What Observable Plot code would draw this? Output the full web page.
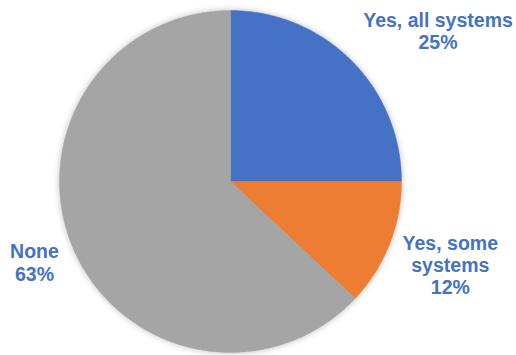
<!DOCTYPE html>
<html>
<head>
<meta charset="utf-8">
<script src="https://cdn.jsdelivr.net/npm/d3@7"></script>
<script src="https://cdn.jsdelivr.net/npm/@observablehq/plot@0.6"></script>
<style>
  html, body { margin: 0; padding: 0; background: #fff; }
  #chart svg { display: block; }
</style>
</head>
<body>
<div id="chart"></div>
<script>
// Data
const categories = ["Yes, all systems", "Yes, some systems", "None"];
const values = [25, 12, 63];
const labelTexts = ["Yes, all systems\n25%", "Yes, some\nsystems\n12%", "None\n63%"];
const colors = ["#4472C4", "#ED7D31", "#A5A5A5"];

// Layout (label distance from centre in radius units, angle nudge in degrees)
const labelRadius = [1.50, 1.375, 1.24];
const labelAngleNudge = [9, -0.8, 1];

const W = 516, H = 355;
const pie = d3.pie().sort(null).value(d => d.value)(categories.map((c, i) => ({key: c, value: values[i]})));

// Build polygon outlines for each slice (in unit circle coordinates)
const slicePts = [];
pie.forEach(s => {
  const n = Math.max(2, Math.ceil((s.endAngle - s.startAngle) / (Math.PI / 180)));
  slicePts.push({key: s.data.key, x: 0, y: 0});
  for (let k = 0; k <= n; k++) {
    const a = s.startAngle + (s.endAngle - s.startAngle) * k / n;
    slicePts.push({key: s.data.key, x: Math.sin(a), y: Math.cos(a)});
  }
  slicePts.push({key: s.data.key, x: 0, y: 0});
});

const labels = pie.map((s, i) => {
  const a = (s.startAngle + s.endAngle) / 2 + labelAngleNudge[i] * Math.PI / 180;
  return {text: labelTexts[i], x: Math.sin(a) * labelRadius[i], y: Math.cos(a) * labelRadius[i]};
});

const plot = Plot.plot({
  width: W,
  height: H,
  margin: 0,
  x: {domain: [-1, 1], range: [59, 401], axis: null},
  y: {domain: [-1, 1], range: [352, 10], axis: null},
  color: {domain: categories, range: colors},
  style: {background: "#fff", overflow: "visible"},
  marks: [
    Plot.line(slicePts, {x: "x", y: "y", z: "key", fill: "key", stroke: "key", strokeWidth: 0.5, curve: "linear"}),
    Plot.text(labels, {
      x: "x", y: "y", text: "text",
      fill: "#4472C4",
      fontFamily: "Liberation Sans, Arial, sans-serif",
      fontWeight: "bold",
      fontSize: 19.5,
      lineHeight: 1.14,
      textAnchor: "middle"
    })
  ]
});

// soft shadow under the pie
const defs = d3.select(plot).insert("defs", ":first-child");
const f = defs.append("filter").attr("id", "pieShadow").attr("x", "-10%").attr("y", "-10%").attr("width", "120%").attr("height", "120%");
f.append("feDropShadow").attr("dx", 0).attr("dy", 0).attr("stdDeviation", 3).attr("flood-color", "#000").attr("flood-opacity", 0.25);
d3.select(plot).select("g[aria-label='line']").attr("filter", "url(#pieShadow)");

document.getElementById("chart").appendChild(plot);
</script>
</body>
</html>
